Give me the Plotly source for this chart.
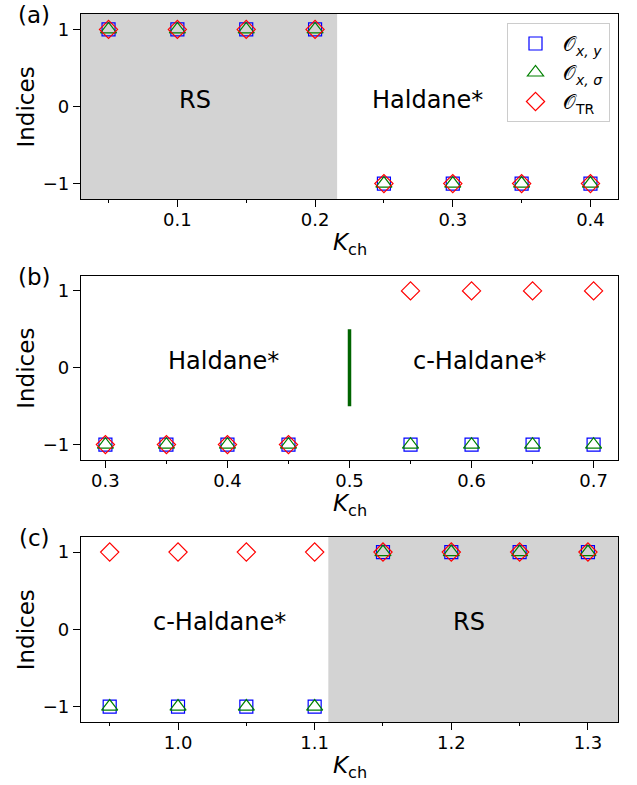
import plotly.graph_objects as go

# ---------------- data ----------------
k_a = [0.05, 0.10, 0.15, 0.20, 0.25, 0.30, 0.35, 0.40]
oxy_a = [1, 1, 1, 1, -1, -1, -1, -1]
oxs_a = [1, 1, 1, 1, -1, -1, -1, -1]
otr_a = [1, 1, 1, 1, -1, -1, -1, -1]

k_b = [0.30, 0.35, 0.40, 0.45, 0.55, 0.60, 0.65, 0.70]
oxy_b = [-1, -1, -1, -1, -1, -1, -1, -1]
oxs_b = [-1, -1, -1, -1, -1, -1, -1, -1]
otr_b = [-1, -1, -1, -1, 1, 1, 1, 1]

k_c = [0.95, 1.00, 1.05, 1.10, 1.15, 1.20, 1.25, 1.30]
oxy_c = [-1, -1, -1, -1, 1, 1, 1, 1]
oxs_c = [-1, -1, -1, -1, 1, 1, 1, 1]
otr_c = [1, 1, 1, 1, 1, 1, 1, 1]

xticks_a = [0.1, 0.2, 0.3, 0.4]
xticks_b = [0.3, 0.4, 0.5, 0.6, 0.7]
xticks_c = [1.0, 1.1, 1.2, 1.3]
yticks = [-1, 0, 1]

names = ["𝒪<sub><i>x, y</i></sub>", "𝒪<sub><i>x, σ</i></sub>", "𝒪<sub>TR</sub>"]

# ---------------- layout constants ----------------
W, H = 637, 785
FONT = "DejaVu Sans"
x0px, x1px = 81, 618
panels = [  # (top px, bottom px)
    (14, 199),
    (275.5, 460),
    (536.6, 722),
]
xranges = [[0.03, 0.42], [0.28, 0.72], [0.929, 1.322]]

fig = go.Figure()

series = [
    (k_a, [oxy_a, oxs_a, otr_a]),
    (k_b, [oxy_b, oxs_b, otr_b]),
    (k_c, [oxy_c, oxs_c, otr_c]),
]
styles = [
    dict(symbol="square-open", color="blue", size=13),
    dict(symbol="triangle-up-open", color="green", size=14),
    dict(symbol="diamond-open", color="red", size=14),
]

for i, (kx, ys) in enumerate(series):
    ax = "" if i == 0 else str(i + 1)
    for j, yv in enumerate(ys):
        st = styles[j]
        fig.add_trace(go.Scatter(
            x=kx, y=yv, mode="markers", name=names[j],
            showlegend=(i == 0),
            marker=dict(symbol=st["symbol"], color=st["color"], size=st["size"],
                        line=dict(color=st["color"], width=1.2)),
            xaxis="x" + ax, yaxis="y" + ax,
        ))

# vertical transition line in panel (b)
fig.add_trace(go.Scatter(x=[0.5, 0.5], y=[-0.5, 0.5], mode="lines",
                         line=dict(color="#006400", width=3.5),
                         showlegend=False, xaxis="x2", yaxis="y2",
                         hoverinfo="skip"))

xtick_sets = [xticks_a, xticks_b, xticks_c]
for i in range(3):
    top, bot = panels[i]
    sfx = "" if i == 0 else str(i + 1)
    xa = dict(
        domain=[x0px / W, x1px / W], range=xranges[i],
        anchor="y" + sfx,
        tickvals=xtick_sets[i], ticktext=[f"{v:.1f}" for v in xtick_sets[i]],
        ticks="outside", ticklen=7, tickwidth=1.3, tickcolor="black",
        minor=dict(dtick=0.05, tick0=0, ticks="outside", ticklen=3, tickwidth=1, tickcolor="black"),
        showline=True, linecolor="black", linewidth=1.2, mirror=True,
        showgrid=False, zeroline=False,
        ticklabelstandoff=-3,
        tickfont=dict(family=FONT, size=18, color="black"),
    )
    ya = dict(
        domain=[1 - bot / H, 1 - top / H], range=[-1.2, 1.2],
        anchor="x" + sfx,
        tickvals=yticks, ticktext=["\u22121", "0", "1"],
        ticks="outside", ticklen=7, tickwidth=1.3, tickcolor="black",
        showline=True, linecolor="black", linewidth=1.2, mirror=True,
        showgrid=False, zeroline=False,
        tickfont=dict(family=FONT, size=18, color="black"),
    )
    fig.update_layout(**{"xaxis" + sfx: xa, "yaxis" + sfx: ya})

# shaded regions
fig.add_shape(type="rect", xref="x", yref="y domain", x0=0.03, x1=0.216, y0=0, y1=1,
              fillcolor="#d3d3d3", line=dict(width=0), layer="below")
fig.add_shape(type="rect", xref="x3", yref="y3 domain", x0=1.11, x1=1.322, y0=0, y1=1,
              fillcolor="#d3d3d3", line=dict(width=0), layer="below")

ann = []
# phase labels
phase = [
    ("x", "y", 0.1, "RS"),
    ("x", "y", 0.24, "Haldane*"),
    ("x2", "y2", 0.35, "Haldane*"),
    ("x2", "y2", 0.55, "c-Haldane*"),
    ("x3", "y3", 0.98, "c-Haldane*"),
    ("x3", "y3", 1.2, "RS"),
]
for xr, yr, xv, t in phase:
    ann.append(dict(xref=xr, yref=yr, x=xv, y=0.09, text=t, showarrow=False,
                    xanchor="left", yanchor="middle",
                    font=dict(family=FONT, size=24, color="black")))

for i, lab in enumerate(["(a)", "(b)", "(c)"]):
    top, bot = panels[i]
    ann.append(dict(xref="paper", yref="paper", x=34 / W, y=1 - (top + 1) / H, text=lab,
                    showarrow=False, xanchor="center", yanchor="middle",
                    font=dict(family=FONT, size=23, color="black")))
    ann.append(dict(xref="paper", yref="paper", x=26 / W, y=1 - ((top + bot) / 2) / H,
                    text="Indices", textangle=-90, showarrow=False,
                    xanchor="center", yanchor="middle",
                    font=dict(family=FONT, size=23, color="black")))
    ann.append(dict(xref="paper", yref="paper", x=((x0px + x1px) / 2) / W, y=1 - (bot + 45) / H,
                    text="<i>K</i><sub>ch</sub>", showarrow=False,
                    xanchor="center", yanchor="middle",
                    font=dict(family=FONT, size=23, color="black")))

fig.update_layout(
    width=W, height=H,
    margin=dict(l=0, r=0, t=0, b=0),
    paper_bgcolor="white", plot_bgcolor="white",
    annotations=ann,
    showlegend=True,
    legend=dict(x=507 / W, y=1 - 23 / H, xanchor="left", yanchor="top",
                bgcolor="rgba(255,255,255,0.8)", bordercolor="#cccccc", borderwidth=1,
                itemwidth=45,
                font=dict(family=FONT, size=20, color="black")),
)

fig.write_html("out.html", config={"displayModeBar": False},
               post_script="document.body.style.margin='0';document.body.style.overflow='hidden';")
